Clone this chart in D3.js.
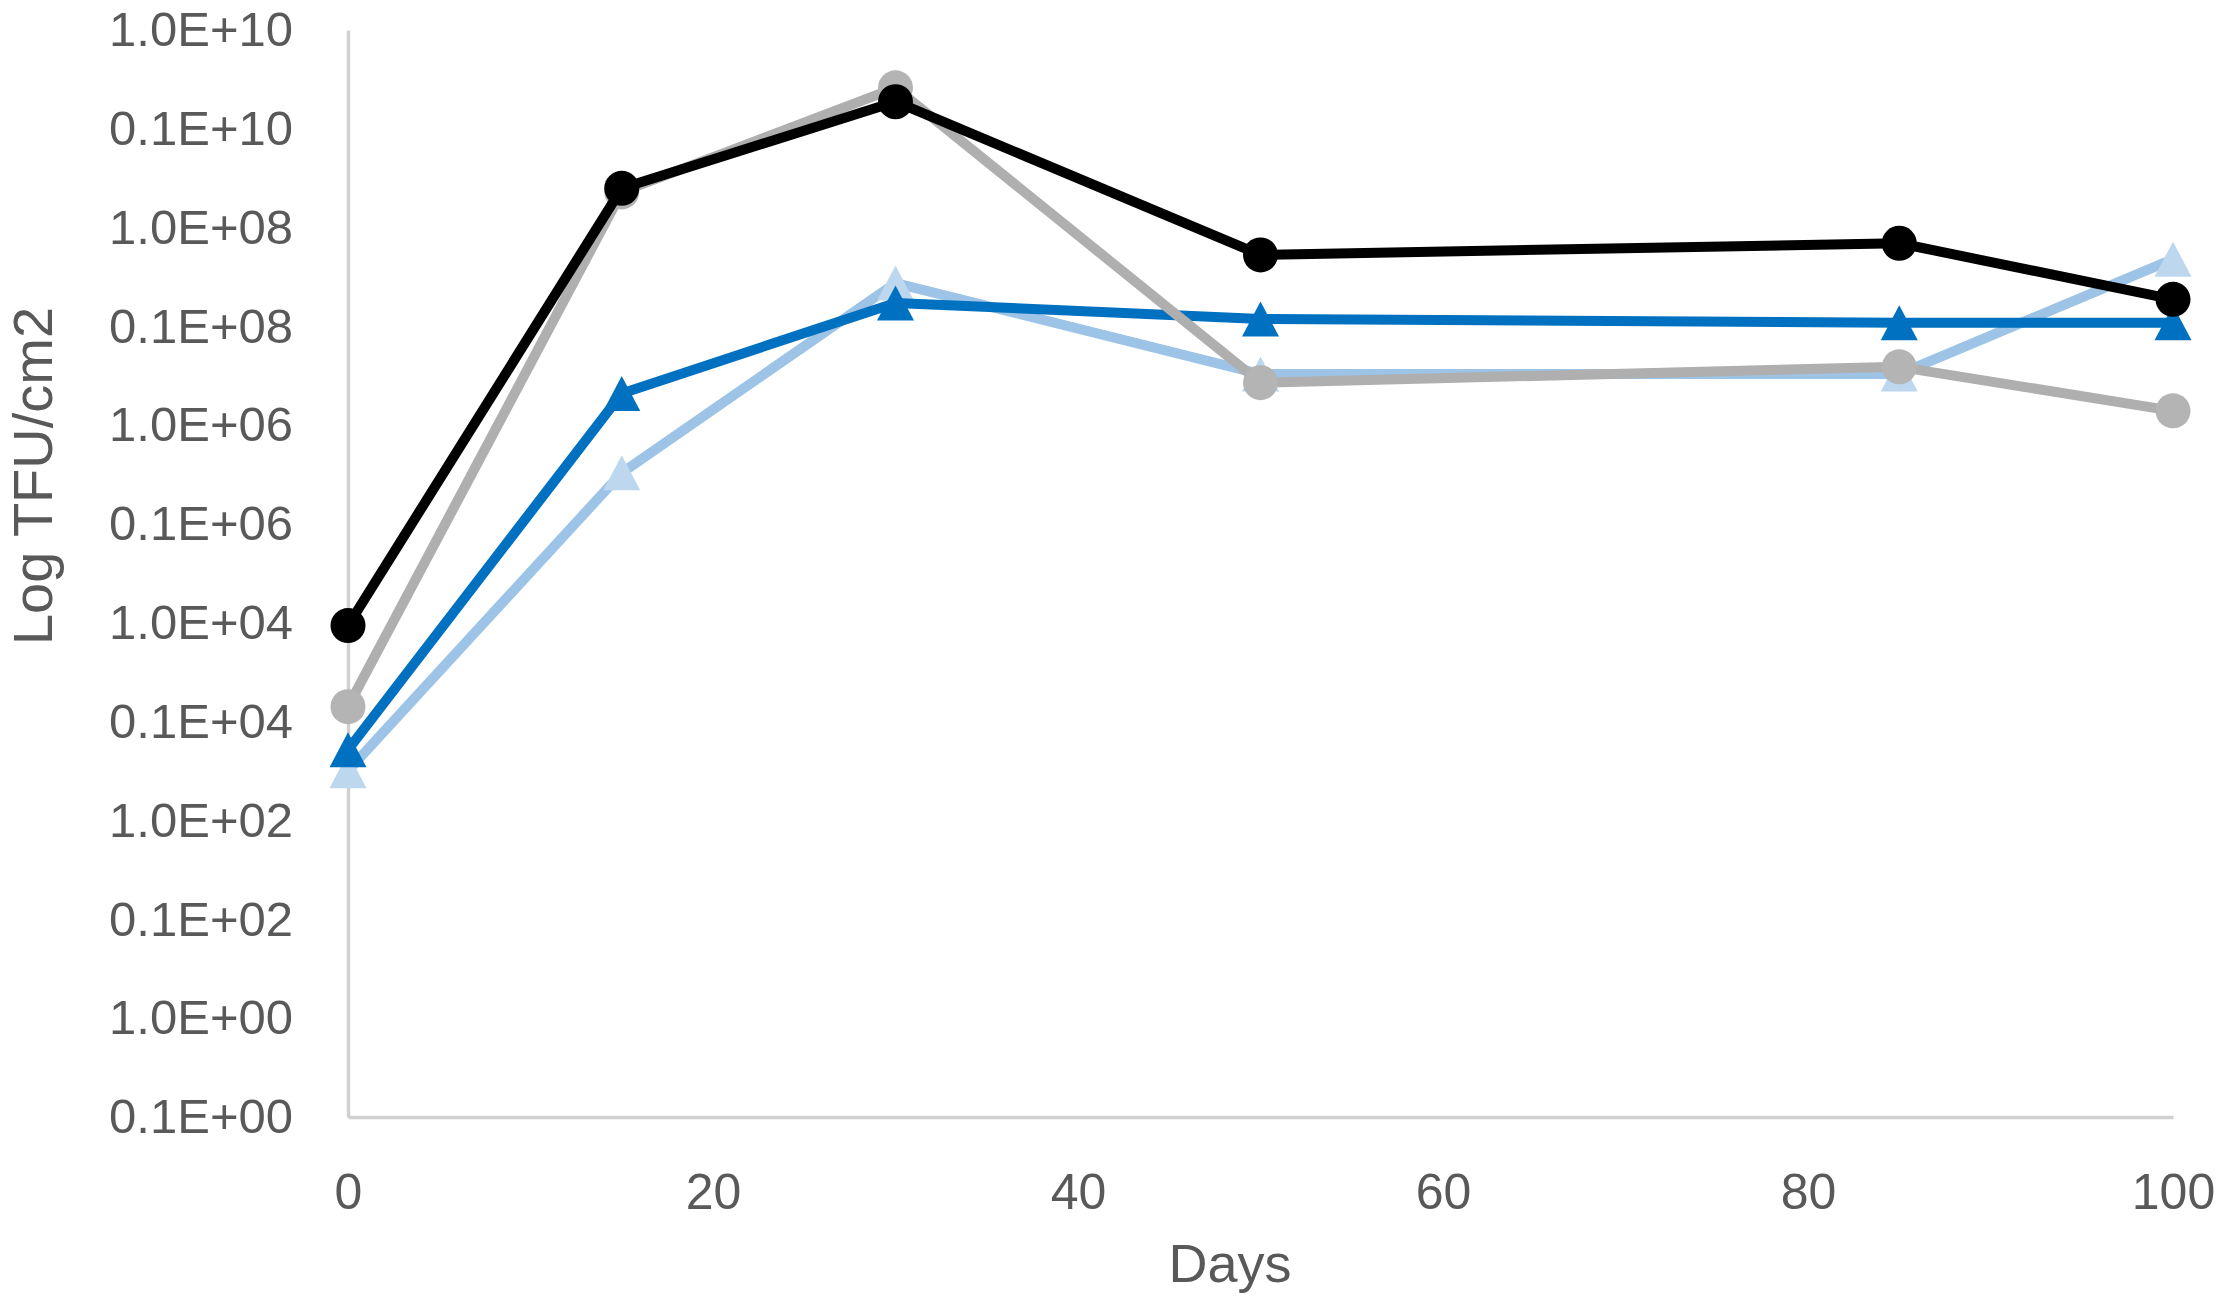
<!DOCTYPE html>
<html>
<head>
<meta charset="utf-8">
<script src="https://cdn.jsdelivr.net/npm/d3@7"></script>
<style>
  html, body { margin: 0; padding: 0; background: #fff; }
  svg { display: block; }
</style>
</head>
<body>
<script>
var width = 2217,
    height = 1302;

// data
var days = [0, 15, 30, 50, 85, 100];
var seriesBlack     = [9.4e3, 2.5e8, 1.88e9, 5.3e7, 6.95e7, 1.88e7];
var seriesGray      = [1.42e3, 2.3e8, 2.6e9, 2.7e6, 3.9e6, 1.4e6];
var seriesDarkBlue  = [5.2e2, 2.1e6, 1.73e7, 1.19e7, 1.09e7, 1.09e7];
var seriesLightBlue = [3.2e2, 3.3e5, 2.75e7, 3.3e6, 3.3e6, 4.8e7];

var xTickValues = [0, 20, 40, 60, 80, 100];
var yTickValues = [1e10, 1e9, 1e8, 1e7, 1e6, 1e5, 1e4, 1e3, 1e2, 1e1, 1e0, 1e-1];
var yTickLabels = ["1.0E+10", "0.1E+10", "1.0E+08", "0.1E+08", "1.0E+06", "0.1E+06",
                   "1.0E+04", "0.1E+04", "1.0E+02", "0.1E+02", "1.0E+00", "0.1E+00"];

var font = "'Liberation Sans', Arial, sans-serif",
    textColor = "#595959",
    axisColor = "#D0D0D0";

var svg = d3.select("body")
    .append("svg")
    .attr("width", width)
    .attr("height", height);

var x = d3.scaleLinear().domain([0, 100]).range([348, 2173]),
    y = d3.scaleLog().domain([0.1, 1e10]).range([1117, 30]);

// y axis
var yAxis = svg.append("g")
    .attr("transform", "translate(" + x(0) + ",0)")
    .call(d3.axisLeft(y)
      .tickValues(yTickValues)
      .tickFormat(function(d, i) { return yTickLabels[i]; })
      .tickSize(0)
      .tickSizeOuter(0)
      .tickPadding(55));

// x axis
var xAxis = svg.append("g")
    .attr("transform", "translate(0," + y(0.1) + ")")
    .call(d3.axisBottom(x)
      .tickValues(xTickValues)
      .tickSize(0)
      .tickSizeOuter(0)
      .tickPadding(56));

[yAxis, xAxis].forEach(function(g) {
  g.attr("font-family", font);
  g.select(".domain")
    .attr("stroke", axisColor)
    .attr("stroke-width", 3.5);
  g.selectAll(".tick text")
    .attr("fill", textColor);
});
yAxis.attr("font-size", 49);
xAxis.attr("font-size", 50);

// axis titles
svg.append("text")
    .attr("transform", "translate(52,476) rotate(-90)")
    .attr("text-anchor", "middle")
    .attr("font-family", font)
    .attr("font-size", 56)
    .attr("fill", textColor)
    .text("Log TFU/cm2");

svg.append("text")
    .attr("x", 1230)
    .attr("y", 1282)
    .attr("text-anchor", "middle")
    .attr("font-family", font)
    .attr("font-size", 54)
    .attr("fill", textColor)
    .text("Days");

// series, drawn back to front
var series = [
  {values: seriesLightBlue, line: "#9DC3E6", marker: "#BDD7EE", shape: "triangle"},
  {values: seriesDarkBlue,  line: "#0070C0", marker: "#0070C0", shape: "triangle"},
  {values: seriesGray,      line: "#AFAFAF", marker: "#B4B4B4", shape: "circle"},
  {values: seriesBlack,     line: "#000000", marker: "#000000", shape: "circle"}
];

var line = d3.line()
    .x(function(d) { return x(d[0]); })
    .y(function(d) { return y(d[1]); });

var triangle = "M0,-17.5L18.5,17.5L-18.5,17.5Z";

series.forEach(function(s) {
  var pts = days.map(function(d, i) { return [d, s.values[i]]; });
  var g = svg.append("g");

  g.append("path")
    .datum(pts)
    .attr("fill", "none")
    .attr("stroke", s.line)
    .attr("stroke-width", 10)
    .attr("stroke-linejoin", "round")
    .attr("d", line);

  if (s.shape == "circle") {
    g.selectAll("circle")
      .data(pts)
      .enter().append("circle")
      .attr("cx", function(d) { return x(d[0]); })
      .attr("cy", function(d) { return y(d[1]); })
      .attr("r", 17.5)
      .attr("fill", s.marker);
  } else {
    g.selectAll("path.marker")
      .data(pts)
      .enter().append("path")
      .attr("class", "marker")
      .attr("transform", function(d) { return "translate(" + x(d[0]) + "," + y(d[1]) + ")"; })
      .attr("d", triangle)
      .attr("fill", s.marker);
  }
});
</script>
</body>
</html>
